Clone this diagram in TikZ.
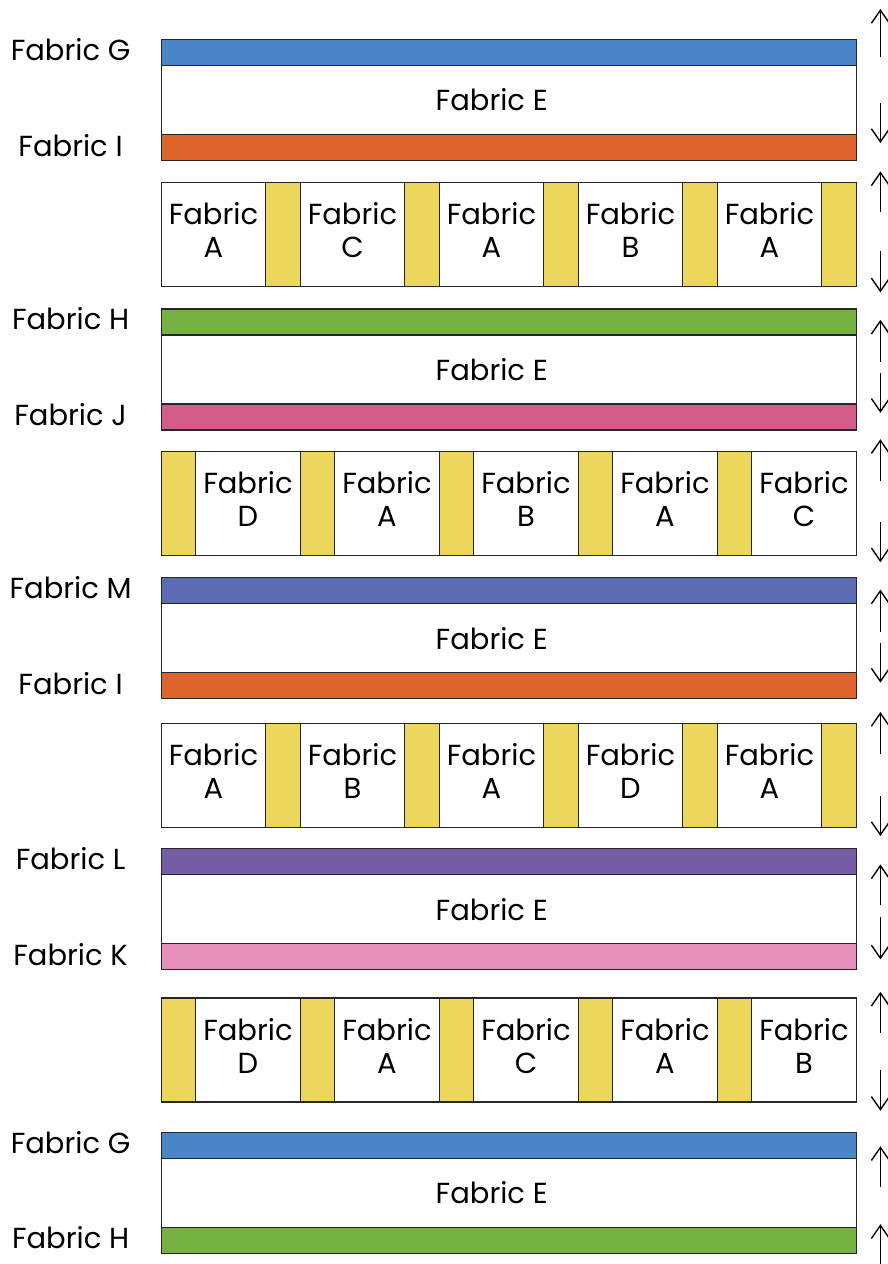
\documentclass[tikz,border=0pt]{standalone}
\usepackage{fontspec}
\setmainfont{Poppins}
\usetikzlibrary{matrix,arrows.meta,positioning}

\definecolor{fabricG}{HTML}{4A86C6}
\definecolor{fabricH}{HTML}{76B043}
\definecolor{fabricI}{HTML}{DE642E}
\definecolor{fabricJ}{HTML}{D25D8A}
\definecolor{fabricK}{HTML}{E591BA}
\definecolor{fabricL}{HTML}{745DA4}
\definecolor{fabricM}{HTML}{5C6CB4}
\definecolor{sashing}{HTML}{ECD65C}

\newcommand\twoline[1]{\begin{tabular}{@{}c@{}}Fabric\\#1\end{tabular}}

\begin{document}
\begin{tikzpicture}
  [
    x = 1pt,
    y = 1pt,
    line width = 1.2pt,
    font = \fontsize{29}{33}\selectfont,
    every node/.style = {
      draw = black!85,
    },
    tag/.style = {
      draw = none,
    },
    stripe/.style = {
      fill = #1,
      minimum height = 26pt,
    },
    field/.style = {
      minimum height = 69pt,
    },
    cell/.style = {
      minimum width = 104.5pt,
      minimum height = 104pt,
    },
    sash/.style = {
      fill = sashing,
      minimum width = 34.5pt,
      minimum height = 104pt,
    },
    plainblock/.style = {
      draw = none,
      inner sep = 0pt,
      matrix of nodes,
      nodes in empty cells,
      row sep = -\pgflinewidth,
      nodes = {minimum width = 695pt, inner sep = 0pt, anchor = center},
    },
    pieceblock/.style = {
      draw = none,
      inner sep = 0pt,
      matrix of nodes,
      nodes in empty cells,
      column sep = -\pgflinewidth,
      nodes = {inner sep = 0pt, anchor = center},
    },
    turn/.style = {
      line width = 1.4pt,
    },
    > = {Straight Barb[length=13pt, width=18pt]},
  ]

  \useasboundingbox (0,0) rectangle (887,-1264);

  \matrix (layer1) [
    plainblock,
    anchor = north west,
  ] at (160,-38) {
    |[stripe=fabricG]| \\
    |[field]| Fabric E\kern34pt \\
    |[stripe=fabricI]| \\
  };

  \matrix (layer2) [
    pieceblock,
    below = 20pt of layer1,
  ]{
    |[cell]| \twoline{A} & |[sash]| & |[cell]| \twoline{C} & |[sash]| & |[cell]| \twoline{A} & |[sash]| & |[cell]| \twoline{B} & |[sash]| & |[cell]| \twoline{A} & |[sash]| \\
  };

  \matrix (layer3) [
    plainblock,
    below = 20pt of layer2,
  ]{
    |[stripe=fabricH]| \\
    |[field]| Fabric E\kern34pt \\
    |[stripe=fabricJ]| \\
  };

  \matrix (layer4) [
    pieceblock,
    below = 19pt of layer3,
  ]{
    |[sash]| & |[cell]| \twoline{D} & |[sash]| & |[cell]| \twoline{A} & |[sash]| & |[cell]| \twoline{B} & |[sash]| & |[cell]| \twoline{A} & |[sash]| & |[cell]| \twoline{C} \\
  };

  \matrix (layer5) [
    plainblock,
    below = 20pt of layer4,
  ]{
    |[stripe=fabricM]| \\
    |[field]| Fabric E\kern34pt \\
    |[stripe=fabricI]| \\
  };

  \matrix (layer6) [
    pieceblock,
    below = 22pt of layer5,
  ]{
    |[cell]| \twoline{A} & |[sash]| & |[cell]| \twoline{B} & |[sash]| & |[cell]| \twoline{A} & |[sash]| & |[cell]| \twoline{D} & |[sash]| & |[cell]| \twoline{A} & |[sash]| \\
  };

  \matrix (layer7) [
    plainblock,
    below = 19pt of layer6,
  ]{
    |[stripe=fabricL]| \\
    |[field]| Fabric E\kern34pt \\
    |[stripe=fabricK]| \\
  };

  \matrix (layer8) [
    pieceblock,
    below = 26pt of layer7,
  ]{
    |[sash]| & |[cell]| \twoline{D} & |[sash]| & |[cell]| \twoline{A} & |[sash]| & |[cell]| \twoline{C} & |[sash]| & |[cell]| \twoline{A} & |[sash]| & |[cell]| \twoline{B} \\
  };

  \matrix (layer9) [
    plainblock,
    below = 28pt of layer8,
  ]{
    |[stripe=fabricG]| \\
    |[field]| Fabric E\kern34pt \\
    |[stripe=fabricH]| \\
  };

  % names of the border fabrics
  \node (tagG1) [tag] at ([xshift=-90pt, yshift=3pt] layer1-1-1.west) {Fabric G};
  \node (tagI1) [tag] at ([xshift=-90pt, yshift=2pt] layer1-3-1.west) {Fabric I};
  \node (tagH1) [tag] at ([xshift=-90pt, yshift=3pt] layer3-1-1.west) {Fabric H};
  \node (tagJ1) [tag] at ([xshift=-90pt, yshift=2pt] layer3-3-1.west) {Fabric J};
  \node (tagM1) [tag] at ([xshift=-90pt, yshift=3pt] layer5-1-1.west) {Fabric M};
  \node (tagI2) [tag] at ([xshift=-90pt, yshift=2pt] layer5-3-1.west) {Fabric I};
  \node (tagL1) [tag] at ([xshift=-90pt, yshift=3pt] layer7-1-1.west) {Fabric L};
  \node (tagK1) [tag] at ([xshift=-90pt, yshift=2pt] layer7-3-1.west) {Fabric K};
  \node (tagG2) [tag] at ([xshift=-90pt, yshift=3pt] layer9-1-1.west) {Fabric G};
  \node (tagH2) [tag] at ([xshift=-90pt, yshift=3pt] layer9-3-1.west) {Fabric H};

  % direction marks
  \draw [turn, ->] ([xshift=23pt, yshift=-19pt] layer1.north east) -- +(0,48);
  \draw [turn, ->] ([xshift=23pt, yshift=-65pt] layer1.north east) -- +(0,-40);
  \draw [turn, ->] ([xshift=23pt, yshift=-31pt] layer2.north east) -- +(0,41);
  \draw [turn, ->] ([xshift=23pt, yshift=-70pt] layer2.north east) -- +(0,-41);
  \draw [turn, ->] ([xshift=23pt, yshift=-54pt] layer3.north east) -- +(0,42);
  \draw [turn, ->] ([xshift=23pt, yshift=-65pt] layer3.north east) -- +(0,-40);
  \draw [turn, ->] ([xshift=23pt, yshift=-31pt] layer4.north east) -- +(0,42);
  \draw [turn, ->] ([xshift=23pt, yshift=-72pt] layer4.north east) -- +(0,-40);
  \draw [turn, ->] ([xshift=23pt, yshift=-55pt] layer5.north east) -- +(0,42);
  \draw [turn, ->] ([xshift=23pt, yshift=-66pt] layer5.north east) -- +(0,-40);
  \draw [turn, ->] ([xshift=23pt, yshift=-32pt] layer6.north east) -- +(0,42);
  \draw [turn, ->] ([xshift=23pt, yshift=-74pt] layer6.north east) -- +(0,-40);
  \draw [turn, ->] ([xshift=23pt, yshift=-58pt] layer7.north east) -- +(0,41);
  \draw [turn, ->] ([xshift=23pt, yshift=-70pt] layer7.north east) -- +(0,-42);
  \draw [turn, ->] ([xshift=23pt, yshift=-36pt] layer8.north east) -- +(0,41);
  \draw [turn, ->] ([xshift=23pt, yshift=-73pt] layer8.north east) -- +(0,-41);
  \draw [turn, ->] ([xshift=23pt, yshift=-56pt] layer9.north east) -- +(0,41);
  \draw [turn, ->] ([xshift=23pt, yshift=-134pt] layer9.north east) -- +(0,41);

\end{tikzpicture}
\end{document}
